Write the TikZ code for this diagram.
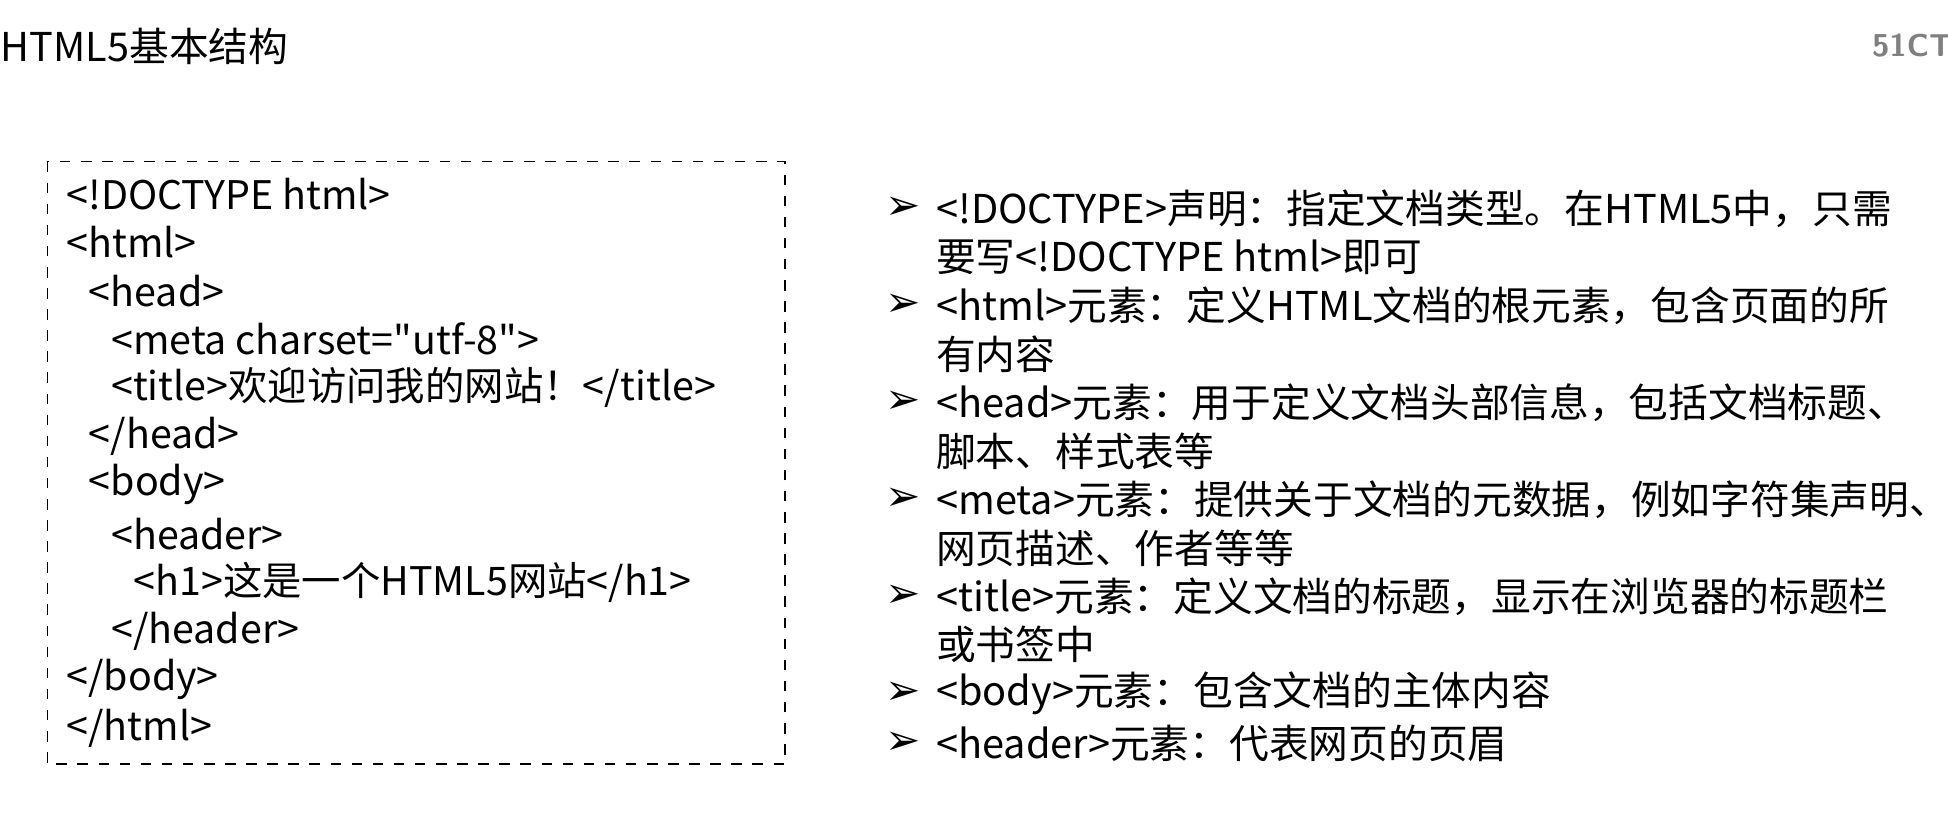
\documentclass[tikz,border=0pt]{standalone}
\usepackage{fontspec}
\setmainfont{Noto Sans CJK SC}
\newfontfamily\codefont{Noto Sans CJK SC}[Ligatures=ResetAll]
\newfontfamily\symfont{DejaVu Sans}
\usetikzlibrary{positioning}
\tikzset{>=stealth}

\begin{document}
\begin{tikzpicture}[x=0.01242cm, y=-0.01242cm,
  code/.style = {anchor=west, inner sep=0pt, font=\fontsize{11.2}{13}\codefont},
  item/.style = {anchor=west, inner sep=0pt, font=\fontsize{11.3}{13}\selectfont},
  bullet/.style = {anchor=west, inner sep=0pt, font=\fontsize{12}{13}\symfont}]
\useasboundingbox (0,0) rectangle (1568,664);
\node [code, font=\fontsize{11.3}{13}\selectfont] (title) at (0,37) {HTML5基本结构};
\node [anchor=east, inner sep=0pt, text=gray, font=\fontsize{9}{10}\bfseries\sffamily] (logo) at (1572,37) {51CT};
\draw [dashed] (38,130) rectangle (632,615);
% code lines
\foreach \t/\x/\y [count=\i] in {
  {<!DOCTYPE html>}/53/156, {<html>}/53/195, {<head>}/71/234,
  {<meta charset="utf-8">}/89/273, {<title>欢迎访问我的网站！</title>}/89/312,
  {</head>}/71/351, {<body>}/71/390, {<header>}/89/430,
  {<h1>这是一个HTML5网站</h1>}/107/469, {</header>}/89/508,
  {</body>}/53/547, {</html>}/53/586}
  \node [code] (c\i) at (\x,\y) {\t};
% notes
\foreach \y [count=\i] in {168,246,324,402,480,558,598}
  \node [bullet] (b\i) at (712,\y) {➢};
\foreach \t/\y [count=\i] in {
  {<!DOCTYPE>声明：指定文档类型。在HTML5中，只需}/168, {要写<!DOCTYPE html>即可}/207,
  {<html>元素：定义HTML文档的根元素，包含页面的所}/246, {有内容}/285,
  {<head>元素：用于定义文档头部信息，包括文档标题、}/324, {脚本、样式表等}/363,
  {<meta>元素：提供关于文档的元数据，例如字符集声明、}/402, {网页描述、作者等等}/441,
  {<title>元素：定义文档的标题，显示在浏览器的标题栏}/480, {或书签中}/519,
  {<body>元素：包含文档的主体内容}/558, {<header>元素：代表网页的页眉}/598}
  \node [item] (n\i) at (753,\y) {\t};
\end{tikzpicture}
\end{document}
